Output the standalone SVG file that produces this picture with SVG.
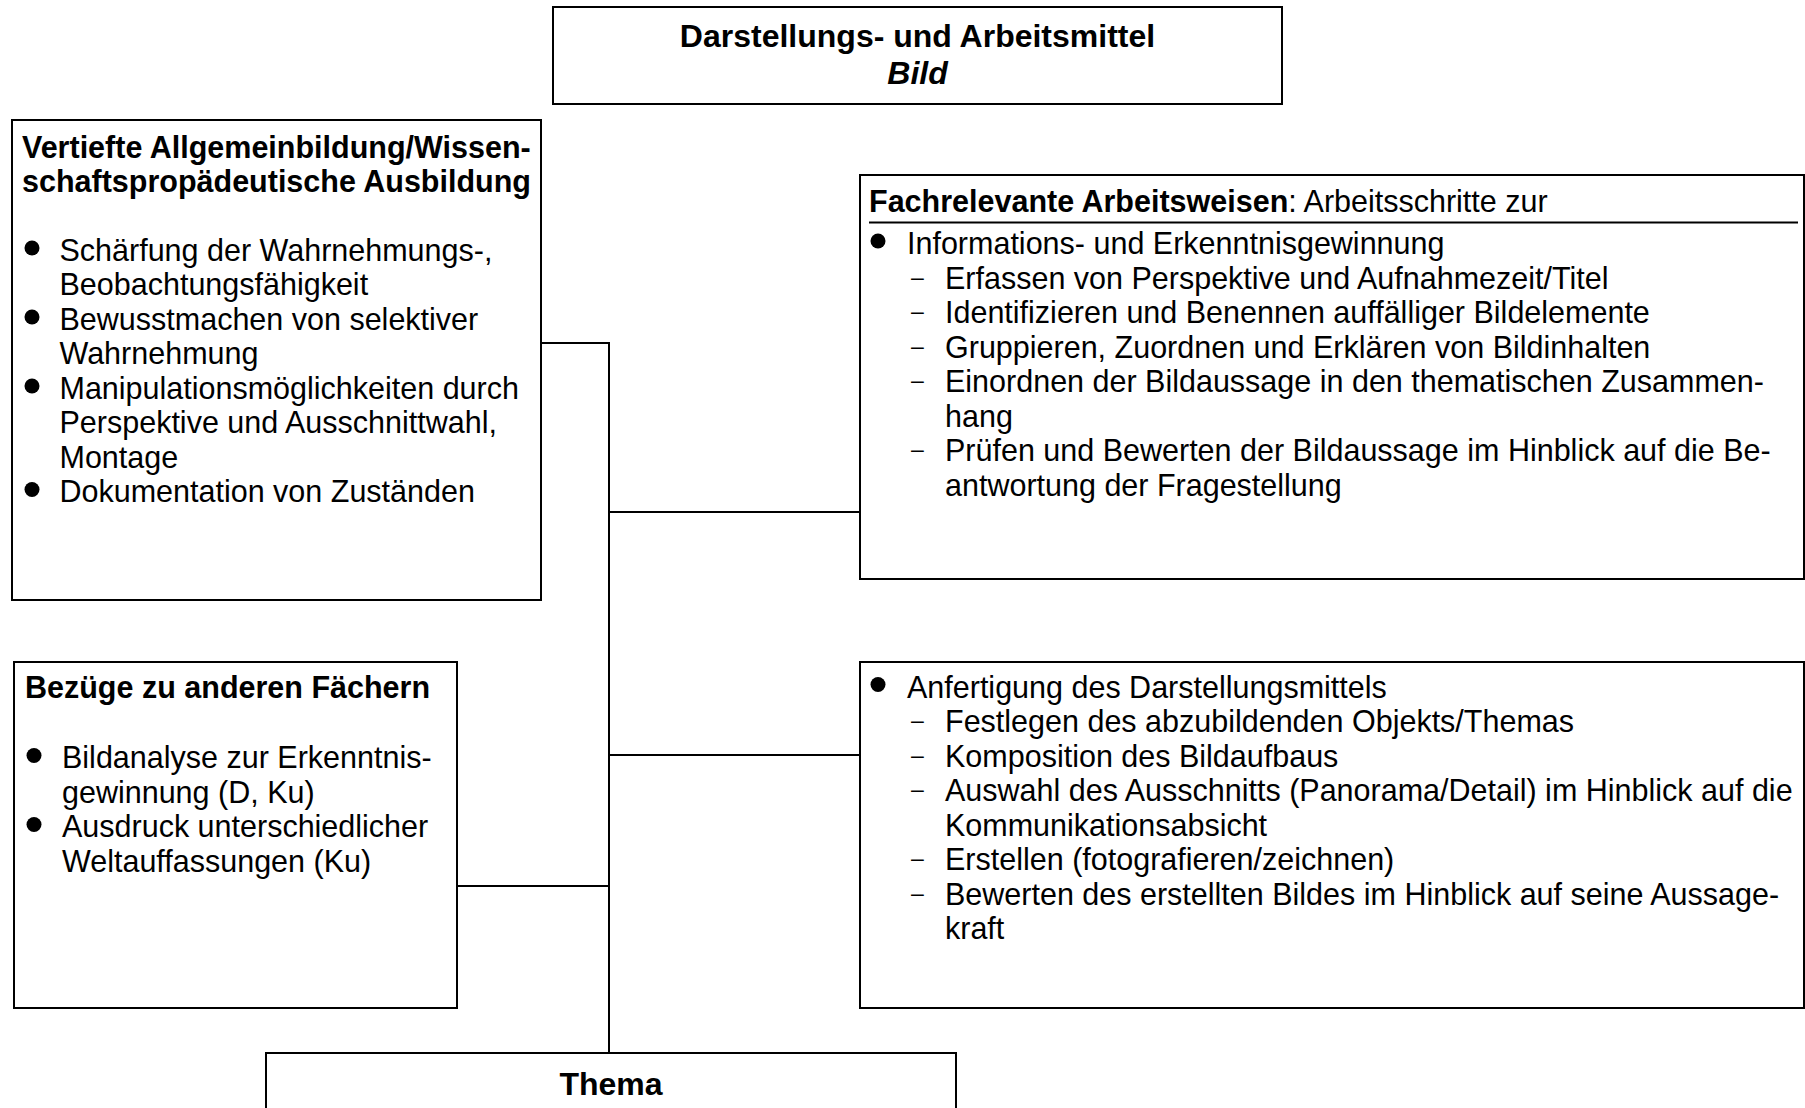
<svg xmlns="http://www.w3.org/2000/svg" width="1805" height="1108" viewBox="0 0 1805 1108">
  <style>
    .box { fill: #ffffff; stroke: #000000; stroke-width: 2; }
    .wire { fill: none; stroke: #000000; stroke-width: 2; }
    text { font-family: "Liberation Sans", Arial, sans-serif; fill: #000000; font-size: 30.5px; }
    .b { font-weight: bold; }
    .t { font-size: 32px; font-weight: bold; }
    .dash { font-size: 23px; }
    .dot { fill: #000000; }
  </style>
  <rect width="1805" height="1108" fill="#ffffff"/>

  <!-- connectors -->
  <g id="connectors">
    <path class="wire" d="M541 343 H609 V1053"/>
    <path class="wire" d="M609 512 H860"/>
    <path class="wire" d="M609 755 H860"/>
    <path class="wire" d="M457 886 H609"/>
  </g>

  <!-- header -->
  <g id="node-title">
    <rect class="box" x="553" y="7" width="729" height="97"/>
    <text class="t" x="917.5" y="47" text-anchor="middle">Darstellungs- und Arbeitsmittel</text>
    <text class="t" x="917.5" y="84" text-anchor="middle" font-style="italic">Bild</text>
  </g>

  <!-- general education -->
  <g id="node-allgemeinbildung">
    <rect class="box" x="12" y="120" width="529" height="480"/>
    <text class="b" x="22" y="158">Vertiefte Allgemeinbildung/Wissen-</text>
    <text class="b" x="22" y="192">schaftspropädeutische Ausbildung</text>
    <circle class="dot" cx="32" cy="248" r="7.5"/>
    <text x="59.5" y="260.5">Schärfung der Wahrnehmungs-,</text>
    <text x="59.5" y="295">Beobachtungsfähigkeit</text>
    <circle class="dot" cx="32" cy="317" r="7.5"/>
    <text x="59.5" y="329.5">Bewusstmachen von selektiver</text>
    <text x="59.5" y="364">Wahrnehmung</text>
    <circle class="dot" cx="32" cy="386" r="7.5"/>
    <text x="59.5" y="398.5">Manipulationsmöglichkeiten durch</text>
    <text x="59.5" y="433">Perspektive und Ausschnittwahl,</text>
    <text x="59.5" y="467.5">Montage</text>
    <circle class="dot" cx="32" cy="489.5" r="7.5"/>
    <text x="59.5" y="502">Dokumentation von Zuständen</text>
  </g>

  <!-- other subjects -->
  <g id="node-faecher">
    <rect class="box" x="14" y="662" width="443" height="346"/>
    <text class="b" x="25" y="698">Bezüge zu anderen Fächern</text>
    <circle class="dot" cx="34" cy="755.5" r="7.5"/>
    <text x="62" y="768">Bildanalyse zur Erkenntnis-</text>
    <text x="62" y="802.5">gewinnung (D, Ku)</text>
    <circle class="dot" cx="34" cy="824.5" r="7.5"/>
    <text x="62" y="837">Ausdruck unterschiedlicher</text>
    <text x="62" y="871.5">Weltauffassungen (Ku)</text>
  </g>

  <!-- working methods: information -->
  <g id="node-arbeitsweisen">
    <rect class="box" x="860" y="175" width="944" height="404"/>
    <text x="869" y="212"><tspan class="b">Fachrelevante Arbeitsweisen</tspan>: Arbeitsschritte zur</text>
    <path class="wire" d="M869 222.5 H1798"/>
    <circle class="dot" cx="878" cy="241" r="7.5"/>
    <text x="907" y="254">Informations- und Erkenntnisgewinnung</text>
    <text class="dash" x="911" y="284.5">–</text>
    <text x="945" y="288.5">Erfassen von Perspektive und Aufnahmezeit/Titel</text>
    <text class="dash" x="911" y="319">–</text>
    <text x="945" y="323">Identifizieren und Benennen auffälliger Bildelemente</text>
    <text class="dash" x="911" y="353.5">–</text>
    <text x="945" y="357.5">Gruppieren, Zuordnen und Erklären von Bildinhalten</text>
    <text class="dash" x="911" y="388">–</text>
    <text x="945" y="392">Einordnen der Bildaussage in den thematischen Zusammen-</text>
    <text x="945" y="426.5">hang</text>
    <text class="dash" x="911" y="457">–</text>
    <text x="945" y="461">Prüfen und Bewerten der Bildaussage im Hinblick auf die Be-</text>
    <text x="945" y="495.5">antwortung der Fragestellung</text>
  </g>

  <!-- working methods: production -->
  <g id="node-anfertigung">
    <rect class="box" x="860" y="662" width="944" height="346"/>
    <circle class="dot" cx="878" cy="684.5" r="7.5"/>
    <text x="907" y="697.5">Anfertigung des Darstellungsmittels</text>
    <text class="dash" x="911" y="728">–</text>
    <text x="945" y="732">Festlegen des abzubildenden Objekts/Themas</text>
    <text class="dash" x="911" y="762.5">–</text>
    <text x="945" y="766.5">Komposition des Bildaufbaus</text>
    <text class="dash" x="911" y="797">–</text>
    <text x="945" y="801">Auswahl des Ausschnitts (Panorama/Detail) im Hinblick auf die</text>
    <text x="945" y="835.5">Kommunikationsabsicht</text>
    <text class="dash" x="911" y="866">–</text>
    <text x="945" y="870">Erstellen (fotografieren/zeichnen)</text>
    <text class="dash" x="911" y="900.5">–</text>
    <text x="945" y="904.5">Bewerten des erstellten Bildes im Hinblick auf seine Aussage-</text>
    <text x="945" y="939">kraft</text>
  </g>

  <!-- topic -->
  <g id="node-thema">
    <rect class="box" x="266" y="1053" width="690" height="80"/>
    <text class="t" x="611" y="1095" text-anchor="middle">Thema</text>
  </g>
</svg>
